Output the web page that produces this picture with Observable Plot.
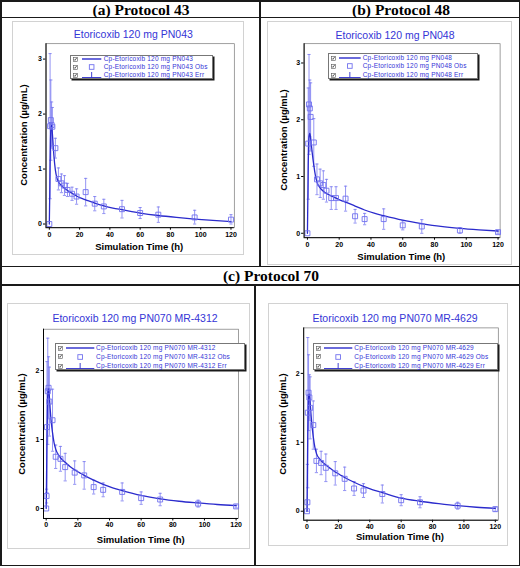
<!DOCTYPE html>
<html><head><meta charset="utf-8">
<script src="https://cdn.jsdelivr.net/npm/d3@7"></script>
<script src="https://cdn.jsdelivr.net/npm/@observablehq/plot@0.6"></script>
<style>
html,body{margin:0;padding:0;background:#fff;}
#page{position:relative;width:520px;height:568px;overflow:hidden;font-family:"Liberation Sans",Arial,sans-serif;}
.ln{position:absolute;background:#1a1a1a;}
.hdr{position:absolute;font-family:"Liberation Serif","Times New Roman",serif;font-weight:bold;font-size:15.5px;line-height:1;white-space:nowrap;transform:translateX(-50%);color:#000;}
.gframe{position:absolute;border:1px solid #d2d2d2;box-sizing:border-box;}
.ttl{position:absolute;color:#3535d6;font-size:10.5px;line-height:1;white-space:nowrap;transform:translate(-50%,-50%);}
.axl{position:absolute;font-weight:bold;font-size:9.5px;line-height:1;white-space:nowrap;color:#000;}
.leg{position:absolute;background:#fff;border:1px solid #777;box-shadow:1.5px 1.5px 0 #1a1a1a;box-sizing:border-box;}
.legt{position:absolute;font-size:6.5px;letter-spacing:0.2px;line-height:1;color:#3535d6;white-space:nowrap;transform:translateY(-50%);}
.plotbox{position:absolute;}
</style>
</head><body><div id="page"></div>
<script>
// ---------- data ----------
const headers = ["(a) Protocol 43", "(b) Protocol 48", "(c) Protocol 70"];
const panelTitles = ["Etoricoxib 120 mg PN043", "Etoricoxib 120 mg PN048", "Etoricoxib 120 mg PN070 MR-4312", "Etoricoxib 120 mg PN070 MR-4629"];
const seriesNames = ["Cp-Etoricoxib 120 mg PN043", "Cp-Etoricoxib 120 mg PN048", "Cp-Etoricoxib 120 mg PN070 MR-4312", "Cp-Etoricoxib 120 mg PN070 MR-4629"];
const legendSuffixes = ["", " Obs", " Err"];
const xLabel = "Simulation Time (h)";
const yLabel = "Concentration (\u00b5g/mL)";
const xTicks = [0, 20, 40, 60, 80, 100, 120];
const yTicksAB = [0, 1, 2, 3];
const yTicksCD = [0, 1, 2];

// simulated curves (h, µg/mL)
const modelTimes = [0,0.25,0.5,0.75,1,1.5,2,2.5,3,4,5,6,8,10,12,15,18,21,24,30,36,42,48,60,72,84,96,108,120];
const modelA = [0,0.5,1.1,1.5,1.72,1.8,1.65,1.45,1.25,0.98,0.84,0.77,0.70,0.65,0.61,0.56,0.51,0.47,0.44,0.38,0.33,0.29,0.26,0.20,0.155,0.12,0.09,0.065,0.045];
const modelB = [0,0.6,1.2,1.55,1.7,1.76,1.68,1.55,1.42,1.2,1.02,0.9,0.8,0.74,0.7,0.66,0.62,0.58,0.55,0.48,0.41,0.355,0.31,0.23,0.17,0.12,0.085,0.06,0.04];
const modelC = [0,0.5,1.05,1.45,1.65,1.74,1.62,1.45,1.3,1.1,0.95,0.86,0.77,0.71,0.67,0.61,0.56,0.52,0.48,0.41,0.35,0.3,0.26,0.19,0.14,0.105,0.08,0.058,0.042];
const modelD = [0,0.55,1.15,1.5,1.68,1.7,1.58,1.42,1.28,1.08,0.93,0.84,0.76,0.71,0.67,0.62,0.57,0.53,0.49,0.42,0.36,0.31,0.27,0.19,0.145,0.11,0.08,0.058,0.042];

// observed means and SD
const obsTimesAB = [0,0.5,1,1.5,2,4,6,8,10,12,15,18,24,30,36,48,60,72,96,120];
const meanA = [0,1.78,1.89,1.80,1.77,1.38,0.82,0.74,0.70,0.62,0.55,0.50,0.58,0.37,0.32,0.27,0.20,0.17,0.12,0.08];
const sdA   = [0,1.32,0.73,0.42,0.35,0.18,0.20,0.17,0.18,0.12,0.12,0.14,0.25,0.13,0.13,0.16,0.10,0.14,0.13,0.09];
const meanB = [0,1.58,2.27,2.20,2.05,1.60,0.95,0.88,0.85,0.75,0.62,0.62,0.61,0.30,0.25,0.25,0.14,0.12,0.05,0.02];
const sdB   = [0,0.98,0.88,0.50,0.60,0.42,0.27,0.25,0.25,0.20,0.20,0.20,0.22,0.12,0.10,0.18,0.08,0.12,0.05,0.02];
const obsTimesCD = [0,0.25,0.5,1,1.5,2,4,6,9,12,18,24,30,36,48,60,72,96,120];
const meanC = [0,0.18,1.18,1.70,1.75,1.55,1.28,0.75,0.72,0.60,0.52,0.48,0.31,0.27,0.24,0.15,0.13,0.07,0.03];
const sdC   = [0,0.10,0.95,0.77,0.45,0.50,0.45,0.17,0.18,0.20,0.17,0.20,0.10,0.10,0.13,0.09,0.09,0.05,0.02];
const meanD = [0,0.13,1.43,1.72,1.65,1.50,1.25,0.73,0.70,0.63,0.55,0.47,0.33,0.30,0.25,0.16,0.13,0.08,0.03];
const sdD   = [0,0.55,1.09,0.55,0.33,0.45,0.35,0.17,0.17,0.20,0.17,0.17,0.10,0.10,0.13,0.08,0.08,0.05,0.03];

// ---------- layout & style ----------
const lineColor = "#2b2bcc", obsColor = "#7070ee", errColor = "#7878f0";
const layout = [
  {frame:{x:11.5,y:20.5,w:232.5,h:234.5}, plot:{l:45,r:233.3,t:42.7,b:226.7}, xDom:[-2.2,122.2], yDom:[-0.067,3.28], yTicks:yTicksAB,
   title:[133.3,34.3], xl:247.3, yl:24, leg:{x:70,y:55,w:143.3,h:23.6,s0:10.7,s1:30,tx:32.7},
   times:obsTimesAB, mean:meanA, sd:sdA, model:modelA},
  {frame:{x:266.7,y:20.5,w:245.5,h:244},   plot:{l:303.3,r:499.3,t:42.7,b:236.7}, xDom:[-2.1,121.3], yDom:[-0.078,3.34], yTicks:yTicksAB,
   title:[395,35], xl:256.7, yl:284, leg:{x:328.3,y:53.3,w:150,h:26,s0:10,s1:31.7,tx:33.4},
   times:obsTimesAB, mean:meanB, sd:sdB, model:modelB},
  {frame:{x:7.3,y:303.3,w:242.7,h:245.7},  plot:{l:43.3,r:238.3,t:329,b:518.3}, xDom:[-1.7,121.5], yDom:[-0.145,2.6], yTicks:yTicksCD,
   title:[135,318.3], xl:540, yl:21.7, leg:{x:55,y:343.3,w:190,h:26.7,s0:10,s1:38.3,tx:40},
   times:obsTimesCD, mean:meanC, sd:sdC, model:modelC},
  {frame:{x:267.5,y:303.3,w:240,h:243.2},  plot:{l:302.7,r:497.3,t:327.7,b:520}, xDom:[-2.1,121.9], yDom:[-0.13,2.66], yTicks:yTicksCD,
   title:[395,318.3], xl:536.7, yl:283.3, leg:{x:313.3,y:343.3,w:185,h:26.7,s0:10,s1:38.3,tx:40},
   times:obsTimesCD, mean:meanD, sd:sdD, model:modelD}
];

const page = document.getElementById("page");
function el(cls, css, text) {
  const d = document.createElement("div");
  d.className = cls;
  Object.assign(d.style, css);
  if (text != null) d.textContent = text;
  page.appendChild(d);
  return d;
}

// table rules
[[0,0,520,1.5],[0,16.5,520,1.5],[0,265.5,520,1.5],[0,284.3,520,1.5],[0,564.5,520,1.5],
 [0,0,1.5,566],[518.5,0,1.5,566],[259.3,0,1.5,266.5],[254.3,285,1.5,281]].forEach(([x,y,w,h]) =>
  el("ln", {left:x+"px", top:y+"px", width:w+"px", height:h+"px"}));

// headers
[[141,2,0],[401,2,1],[271,267.7,2]].forEach(([cx,top,i]) =>
  el("hdr", {left:cx+"px", top:top+"px"}, headers[i]));

// horizontal cap symbol for error bars
const capSymbol = {draw(ctx, size) { const w = Math.sqrt(size) / 2; ctx.moveTo(-w, 0); ctx.lineTo(w, 0); }};

const svgNS = "http://www.w3.org/2000/svg";
function glyph(x, y, w, h, inner) {
  const s = document.createElementNS(svgNS, "svg");
  s.setAttribute("width", w); s.setAttribute("height", h);
  s.style.position = "absolute"; s.style.left = x + "px"; s.style.top = y + "px"; s.style.overflow = "visible";
  s.innerHTML = inner;
  return s;
}

layout.forEach((p, i) => {
  const f = p.frame;
  el("gframe", {left:f.x+"px", top:f.y+"px", width:f.w+"px", height:f.h+"px"});

  const obs = p.times.map((t, k) => ({t, c: p.mean[k], sd: p.sd[k]}));
  const errs = obs.filter(d => d.sd > 0);
  const model = modelTimes.map((t, k) => ({t, c: p.model[k]}));

  const chart = Plot.plot({
    width: f.w, height: f.h,
    marginLeft: p.plot.l - f.x, marginRight: f.x + f.w - p.plot.r,
    marginTop: p.plot.t - f.y, marginBottom: f.y + f.h - p.plot.b,
    x: {domain: p.xDom, ticks: xTicks, tickFormat: d3.format("d"), tickSize: 2.5, tickPadding: 1.5, label: null},
    y: {domain: p.yDom, ticks: p.yTicks, tickFormat: d3.format("d"), tickSize: 2.5, tickPadding: 1.5, label: null},
    style: {fontFamily: "'Liberation Sans', Arial, sans-serif", fontSize: "7px", fontWeight: "bold", color: "#000", background: "transparent", overflow: "visible"},
    marks: [
      Plot.frame({stroke: "#777", strokeWidth: 0.7}),
      Plot.ruleX(errs, {x: "t", y1: d => Math.max(0, d.c - d.sd), y2: d => d.c + d.sd, stroke: errColor, strokeWidth: 0.8}),
      Plot.dot(errs, {x: "t", y: d => d.c + d.sd, symbol: capSymbol, r: 1.8, stroke: errColor, strokeWidth: 0.8}),
      Plot.dot(errs, {x: "t", y: d => Math.max(0, d.c - d.sd), symbol: capSymbol, r: 1.8, stroke: errColor, strokeWidth: 0.8}),
      Plot.line(model, {x: "t", y: "c", stroke: lineColor, strokeWidth: 1.3, curve: "monotone-x"}),
      Plot.dot(obs, {x: "t", y: "c", symbol: "square", r: 2.8, stroke: obsColor, strokeWidth: 0.9, fill: "none"}),
      Plot.ruleY([p.yDom[0]], {stroke: "#000", strokeWidth: 1}),
      Plot.ruleX([p.xDom[0]], {stroke: "#000", strokeWidth: 1})
    ]
  });
  const box = el("plotbox", {left: f.x + "px", top: f.y + "px"});
  box.appendChild(chart);

  // title and axis labels
  el("ttl", {left: p.title[0] + "px", top: p.title[1] + "px"}, panelTitles[i]);
  const cx = (p.plot.l + p.plot.r) / 2, cy = (p.plot.t + p.plot.b) / 2;
  el("axl", {left: cx + "px", top: p.xl + "px", transform: "translate(-50%,-50%)"}, xLabel);
  el("axl", {left: p.yl + "px", top: cy + "px", transform: "translate(-50%,-50%) rotate(-90deg)"}, yLabel);

  // legend
  const L = p.leg;
  const lg = el("leg", {left: L.x + "px", top: L.y + "px", width: L.w + "px", height: L.h + "px"});
  const rows = [0.17, 0.5, 0.84].map(r => r * L.h - 1);
  rows.forEach((ry, k) => {
    lg.appendChild(glyph(1.5, ry - 2.2, 4.5, 4.5,
      `<rect x="0.3" y="0.3" width="4" height="4" fill="#fff" stroke="#555" stroke-width="0.6"/><path d="M0.9,2.3 L1.9,3.4 L3.7,0.9" fill="none" stroke="#222" stroke-width="0.7"/>`));
    const sw = L.s1 - L.s0, mid = sw / 2;
    let inner;
    if (k === 0) inner = `<line x1="0" y1="4" x2="${sw}" y2="4" stroke="${lineColor}" stroke-width="1.4"/>`;
    else if (k === 1) inner = `<rect x="${mid-2.3}" y="1.7" width="4.6" height="4.6" fill="none" stroke="${obsColor}" stroke-width="0.9"/>`;
    else inner = `<line x1="0" y1="6.5" x2="${sw}" y2="6.5" stroke="${lineColor}" stroke-width="0.9"/><line x1="${mid}" y1="1" x2="${mid}" y2="6.5" stroke="${lineColor}" stroke-width="0.9"/>`;
    lg.appendChild(glyph(L.s0, ry - 4, sw, 8, inner));
    const t = document.createElement("div");
    t.className = "legt";
    t.style.left = L.tx + "px"; t.style.top = ry + "px";
    t.textContent = seriesNames[i] + legendSuffixes[k];
    lg.appendChild(t);
  });
});
</script>
</body></html>
